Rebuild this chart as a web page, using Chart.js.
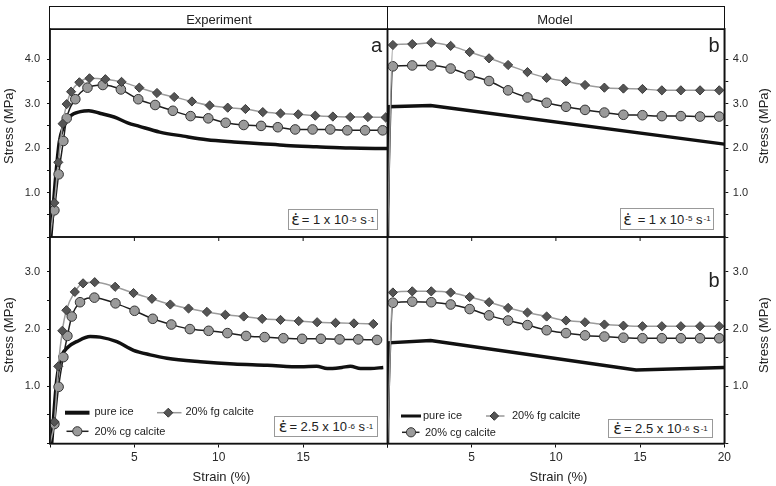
<!DOCTYPE html>
<html><head><meta charset="utf-8">
<script src="https://cdn.jsdelivr.net/npm/chart.js@4.4.0/dist/chart.umd.min.js"></script>
<style>
html,body{margin:0;padding:0;background:#fff;width:776px;height:486px;overflow:hidden;font-family:"Liberation Sans",Arial,sans-serif;color:#222;}
canvas{position:absolute;}
.t{position:absolute;white-space:nowrap;line-height:1;}
.rot{position:absolute;white-space:nowrap;line-height:1;font-size:13px;transform:translate(-50%,-50%) rotate(-90deg);}
.rate{position:absolute;border:1.5px solid #999;box-sizing:border-box;background:#fff;display:flex;align-items:center;justify-content:center;font-size:13px;color:#222;white-space:nowrap;}
.rate .eps{font-family:"DejaVu Sans";font-size:16px;margin-right:2px;}
.rate sup{font-size:8px;vertical-align:6px;line-height:0;margin-left:1px;}
.hdr{position:absolute;border:1.5px solid #111;box-sizing:border-box;}
</style>
</head><body>
<canvas id="c1" width="390" height="213" style="left:0;top:27px;width:390px;height:213px"></canvas>
<canvas id="c2" width="391" height="213" style="left:385px;top:27px;width:391px;height:213px"></canvas>
<canvas id="c3" width="390" height="252" style="left:0;top:234px;width:390px;height:252px"></canvas>
<canvas id="c4" width="391" height="252" style="left:385px;top:234px;width:391px;height:252px"></canvas>

<div class="hdr" style="left:49.25px;top:6.25px;width:338.5px;height:23.5px"></div>
<div class="hdr" style="left:386.75px;top:6.25px;width:338.5px;height:23.5px"></div>
<div class="t" style="font-size:13px;left:219px;top:13px;transform:translateX(-50%)">Experiment</div>
<div class="t" style="font-size:13px;left:555px;top:13px;transform:translateX(-50%)">Model</div>

<div class="rot" style="left:8px;top:125.5px">Stress (MPa)</div>
<div class="rot" style="left:8px;top:335px">Stress (MPa)</div>
<div class="rot" style="left:763px;top:125.5px">Stress (MPa)</div>
<div class="rot" style="left:763px;top:335px">Stress (MPa)</div>
<div class="t" style="font-size:13px;left:221.5px;top:469.5px;transform:translateX(-50%)">Strain (%)</div>
<div class="t" style="font-size:13px;left:558.5px;top:469.5px;transform:translateX(-50%)">Strain (%)</div>

<div class="t" style="font-size:20px;left:371px;top:34.8px">a</div>
<div class="t" style="font-size:20px;left:708.5px;top:35px">b</div>
<div class="t" style="font-size:20px;left:708.5px;top:270.4px">b</div>

<div class="rate" style="left:288px;top:209px;width:90px;height:21px"><span class="eps">ε̇</span>= 1 x 10<sup>-5</sup>&nbsp;s<sup>-1</sup></div>
<div class="rate" style="left:620px;top:208px;width:94px;height:22px"><span class="eps">ε̇</span>&nbsp;= 1 x 10<sup>-5</sup>&nbsp;s<sup>-1</sup></div>
<div class="rate" style="left:274px;top:416px;width:104px;height:21px"><span class="eps">ε̇</span>= 2.5 x 10<sup>-6</sup>&nbsp;s<sup>-1</sup></div>
<div class="rate" style="left:608px;top:419px;width:105px;height:19px"><span class="eps">ε̇</span>= 2.5 x 10<sup>-6</sup>&nbsp;s<sup>-1</sup></div>

<svg style="position:absolute;left:0;top:0" width="776" height="486">
  <line x1="65" y1="412.7" x2="89.5" y2="412.7" stroke="#111" stroke-width="4"/>
  <line x1="157" y1="412.7" x2="181.5" y2="412.7" stroke="#999" stroke-width="1.5"/>
  <polygon points="168.3,408.2 172.8,412.7 168.3,417.2 163.8,412.7" fill="#555" stroke="#333" stroke-width="1"/>
  <line x1="66.5" y1="431.3" x2="88.5" y2="431.3" stroke="#222" stroke-width="1.5"/>
  <circle cx="77.3" cy="431.3" r="4.6" fill="#9a9a9a" stroke="#333" stroke-width="1"/>

  <line x1="401" y1="416" x2="421" y2="416" stroke="#111" stroke-width="3"/>
  <line x1="486" y1="416" x2="504.5" y2="416" stroke="#999" stroke-width="1.5"/>
  <polygon points="494.3,411.7 498.6,416 494.3,420.3 490,416" fill="#555" stroke="#333" stroke-width="1"/>
  <line x1="402" y1="432.3" x2="419.5" y2="432.3" stroke="#222" stroke-width="1.5"/>
  <circle cx="411" cy="432.3" r="4.6" fill="#9a9a9a" stroke="#333" stroke-width="1"/>
</svg>
<div class="t" style="font-size:11px;left:94.5px;top:406.3px">pure ice</div>
<div class="t" style="font-size:11px;left:185.5px;top:406.3px">20% fg calcite</div>
<div class="t" style="font-size:11px;left:94.5px;top:425.7px">20% cg calcite</div>
<div class="t" style="font-size:11px;left:423px;top:409.7px">pure ice</div>
<div class="t" style="font-size:11px;left:512px;top:409.7px">20% fg calcite</div>
<div class="t" style="font-size:11px;left:425px;top:426.7px">20% cg calcite</div>

<script>
// ---------- DATA (strain %, stress MPa) ----------
// Experiment, strain rate 1e-5 s-1
const expFastIceStrain = [0.05, 0.3, 0.55, 0.8, 1.2, 1.8, 2.3, 3.0, 3.8, 4.6, 5.3, 6.5, 7.9, 9.3, 10.9, 12.5, 14.0, 15.8, 17.8, 20.0];
const expFastIceStress = [0, 1.2, 2.14, 2.48, 2.72, 2.82, 2.84, 2.78, 2.70, 2.57, 2.49, 2.36, 2.27, 2.19, 2.14, 2.10, 2.06, 2.03, 2.00, 1.99];
const expFastFgStrain = [0, 0.26, 0.49, 0.75, 0.99, 1.25, 1.74, 2.34, 3.28, 4.24, 5.29, 6.34, 7.36, 8.41, 9.46, 10.53, 11.58, 12.61, 13.66, 14.71, 15.72, 16.76, 17.79, 18.84, 19.89];
const expFastFgStress = [0, 0.77, 1.68, 2.55, 2.99, 3.27, 3.48, 3.57, 3.55, 3.49, 3.36, 3.24, 3.15, 3.05, 2.96, 2.91, 2.88, 2.81, 2.78, 2.76, 2.73, 2.71, 2.70, 2.70, 2.69];
const expFastCgStrain = [0, 0.26, 0.51, 0.79, 0.99, 1.50, 2.22, 3.13, 4.20, 5.23, 6.23, 7.28, 8.33, 9.38, 10.41, 11.48, 12.51, 13.50, 14.53, 15.56, 16.61, 17.62, 18.67, 19.71];
const expFastCgStress = [0, 0.60, 1.41, 2.16, 2.67, 3.10, 3.36, 3.42, 3.32, 3.10, 2.97, 2.84, 2.72, 2.67, 2.57, 2.52, 2.50, 2.47, 2.42, 2.42, 2.42, 2.40, 2.40, 2.40];

// Model, strain rate 1e-5 s-1
const modIceStrain = [0, 0.05, 2.56, 20];
const modFastIceStress = [0, 2.93, 2.96, 2.09];
const modCalciteStrain = [0, 0.32, 1.47, 2.60, 3.75, 4.88, 6.03, 7.16, 8.31, 9.45, 10.6, 11.73, 12.88, 14.01, 15.14, 16.29, 17.42, 18.56, 19.70];
const modFastFgStress = [0, 4.32, 4.34, 4.37, 4.30, 4.16, 4.02, 3.87, 3.71, 3.58, 3.50, 3.42, 3.36, 3.34, 3.33, 3.30, 3.30, 3.30, 3.30];
const modFastCgStress = [0, 3.84, 3.86, 3.86, 3.79, 3.64, 3.51, 3.30, 3.14, 3.02, 2.93, 2.86, 2.80, 2.75, 2.74, 2.72, 2.72, 2.71, 2.71];

// Experiment, strain rate 2.5e-6 s-1
const expSlowIceStrain = [0.1, 0.4, 0.69, 1.09, 1.58, 2.38, 2.97, 3.96, 4.95, 5.94, 6.93, 8.91, 10.89, 12.87, 14.85, 15.8, 16.43, 17.3, 17.8, 18.4, 19.0, 19.75];
const expSlowIceStress = [0, 1.11, 1.52, 1.69, 1.78, 1.87, 1.86, 1.78, 1.63, 1.55, 1.49, 1.43, 1.39, 1.37, 1.34, 1.35, 1.31, 1.33, 1.35, 1.31, 1.31, 1.33];
const expSlowFgStrain = [0, 0.26, 0.49, 0.73, 0.97, 1.47, 1.96, 2.65, 3.86, 4.95, 6.04, 7.13, 8.21, 9.30, 10.39, 11.48, 12.57, 13.66, 14.74, 15.83, 16.92, 18.01, 19.16];
const expSlowFgStress = [0, 0.38, 1.35, 1.97, 2.33, 2.65, 2.80, 2.82, 2.74, 2.63, 2.53, 2.43, 2.36, 2.30, 2.25, 2.22, 2.18, 2.16, 2.14, 2.12, 2.11, 2.10, 2.09];
const expSlowCgStrain = [0, 0.26, 0.51, 0.79, 1.03, 1.29, 1.78, 2.63, 3.88, 5.01, 6.09, 7.19, 8.29, 9.40, 10.51, 11.62, 12.72, 13.83, 14.94, 16.05, 17.16, 18.27, 19.38];
const expSlowCgStress = [0, 0.34, 0.99, 1.51, 1.88, 2.22, 2.47, 2.55, 2.45, 2.32, 2.18, 2.08, 2.00, 1.97, 1.93, 1.88, 1.86, 1.84, 1.83, 1.83, 1.82, 1.82, 1.81];

// Model, strain rate 2.5e-6 s-1
const modSlowIceStrain = [0, 0.05, 2.56, 14.76, 20];
const modSlowIceStress = [0, 1.76, 1.80, 1.285, 1.33];
const modSlowFgStress = [0, 2.64, 2.66, 2.66, 2.64, 2.56, 2.47, 2.37, 2.29, 2.22, 2.15, 2.12, 2.08, 2.06, 2.05, 2.05, 2.05, 2.05, 2.05];
const modSlowCgStress = [0, 2.46, 2.48, 2.47, 2.43, 2.35, 2.24, 2.15, 2.07, 1.98, 1.93, 1.89, 1.87, 1.85, 1.84, 1.84, 1.84, 1.84, 1.84];

const xTickLabelsLeft = ['5', '10', '15'];
const xTickLabelsRight = ['5', '10', '15', '20'];

// ---------- helpers ----------
const zip = (xs, ys) => xs.map((x, i) => ({x: x, y: ys[i]}));
const FONT = '"Liberation Sans", Arial, sans-serif';

function series(iceX, iceY, fgX, fgY, cgX, cgY, iceSmooth) {
  return [
    {label: '20% fg calcite', data: zip(fgX, fgY), borderColor: '#9c9c9c', borderWidth: 1.5,
     pointStyle: 'rectRot', pointRadius: c => (c.raw && c.raw.y === 0 ? 0 : 4.6),
     pointBackgroundColor: '#555', pointBorderColor: '#3a3a3a', pointBorderWidth: 1,
     cubicInterpolationMode: 'monotone', order: 1},
    {label: '20% cg calcite', data: zip(cgX, cgY), borderColor: '#1e1e1e', borderWidth: 1.5,
     pointStyle: 'circle', pointRadius: c => (c.raw && c.raw.y === 0 ? 0 : 4.8),
     pointBackgroundColor: '#9a9a9a', pointBorderColor: '#333', pointBorderWidth: 1,
     cubicInterpolationMode: 'monotone', order: 2},
    {label: 'pure ice', data: zip(iceX, iceY), borderColor: '#111', borderWidth: 3.5,
     pointRadius: 0, cubicInterpolationMode: iceSmooth ? 'monotone' : 'default', tension: 0, order: 3}
  ];
}

const framePlugin = {
  id: 'frame',
  afterDraw(chart, args, opts) {
    const {ctx, chartArea: a, scales} = chart;
    ctx.save();
    ctx.strokeStyle = '#111';
    ctx.lineWidth = 1.5;
    ctx.strokeRect(a.left, a.top, a.right - a.left, a.bottom - a.top);
    if (opts.topTicks) {
      ctx.lineWidth = 1;
      opts.topTicks.forEach(v => {
        const px = scales.x.getPixelForValue(v);
        ctx.beginPath(); ctx.moveTo(px, a.top); ctx.lineTo(px, a.top + 4); ctx.stroke();
      });
    }
    ctx.restore();
  }
};

function makeChart(id, datasets, o) {
  const yScale = {
    type: 'linear', min: 0, max: o.ymax, position: o.right ? 'right' : 'left',
    afterBuildTicks: s => { s.ticks = s.ticks.filter(t => Math.abs(t.value * 2 - Math.round(t.value * 2)) < 1e-6); },
    afterFit: s => { s.width = o.right ? 51.7 : 50; s.paddingTop = 0; s.paddingBottom = 0; },
    ticks: {stepSize: 0.5, padding: o.right ? 4.5 : 7, color: '#2a2a2a', font: {family: FONT, size: 11},
      callback: v => (Math.abs(v - Math.round(v)) < 1e-6 && v > 0) ? v.toFixed(1) : ''},
    grid: {drawOnChartArea: false, drawTicks: true, tickLength: o.right ? 4 : 3, color: '#111', lineWidth: 1},
    border: {display: true, color: '#111', width: 1.5}
  };
  const xScale = o.showX ? {
    type: 'linear', min: 0, max: 20, position: 'bottom',
    afterFit: s => { s.height = 42.5; s.paddingLeft = 0; s.paddingRight = 0; },
    ticks: {stepSize: 5, padding: 3, color: '#2a2a2a', maxRotation: 0, font: {family: FONT, size: 12},
      callback: v => (o.xLabels.indexOf(String(v)) >= 0 ? String(v) : '')},
    grid: {drawOnChartArea: false, drawTicks: true, tickLength: 4, color: '#111', lineWidth: 1},
    border: {display: true, color: '#111', width: 1.5}
  } : {type: 'linear', min: 0, max: 20, display: false};

  return new Chart(document.getElementById(id), {
    type: 'line',
    data: {datasets: datasets},
    options: {
      responsive: false, animation: false, parsing: true,
      layout: {padding: o.pad, autoPadding: false},
      scales: {x: xScale, y: yScale},
      plugins: {legend: {display: false}, tooltip: {enabled: false}, frame: {topTicks: o.topTicks}}
    },
    plugins: [framePlugin]
  });
}

makeChart('c1', series(expFastIceStrain, expFastIceStress, expFastFgStrain, expFastFgStress, expFastCgStrain, expFastCgStress, true),
  {ymax: 4.68, right: false, showX: false, pad: {top: 2, bottom: 3, left: 0, right: 2.5}});
makeChart('c2', series(modIceStrain, modFastIceStress, modCalciteStrain, modFastFgStress, modCalciteStrain, modFastCgStress, false),
  {ymax: 4.68, right: true, showX: false, pad: {top: 2, bottom: 3, left: 2.5, right: 0}});
makeChart('c3', series(expSlowIceStrain, expSlowIceStress, expSlowFgStrain, expSlowFgStress, expSlowCgStrain, expSlowCgStress, true),
  {ymax: 3.61, right: false, showX: true, xLabels: xTickLabelsLeft, topTicks: [5, 10, 15], pad: {top: 3, bottom: 0, left: 0, right: 2.5}});
makeChart('c4', series(modSlowIceStrain, modSlowIceStress, modCalciteStrain, modSlowFgStress, modCalciteStrain, modSlowCgStress, false),
  {ymax: 3.61, right: true, showX: true, xLabels: xTickLabelsRight, topTicks: [5, 10, 15], pad: {top: 3, bottom: 0, left: 2.5, right: 0}});
</script>
</body></html>
